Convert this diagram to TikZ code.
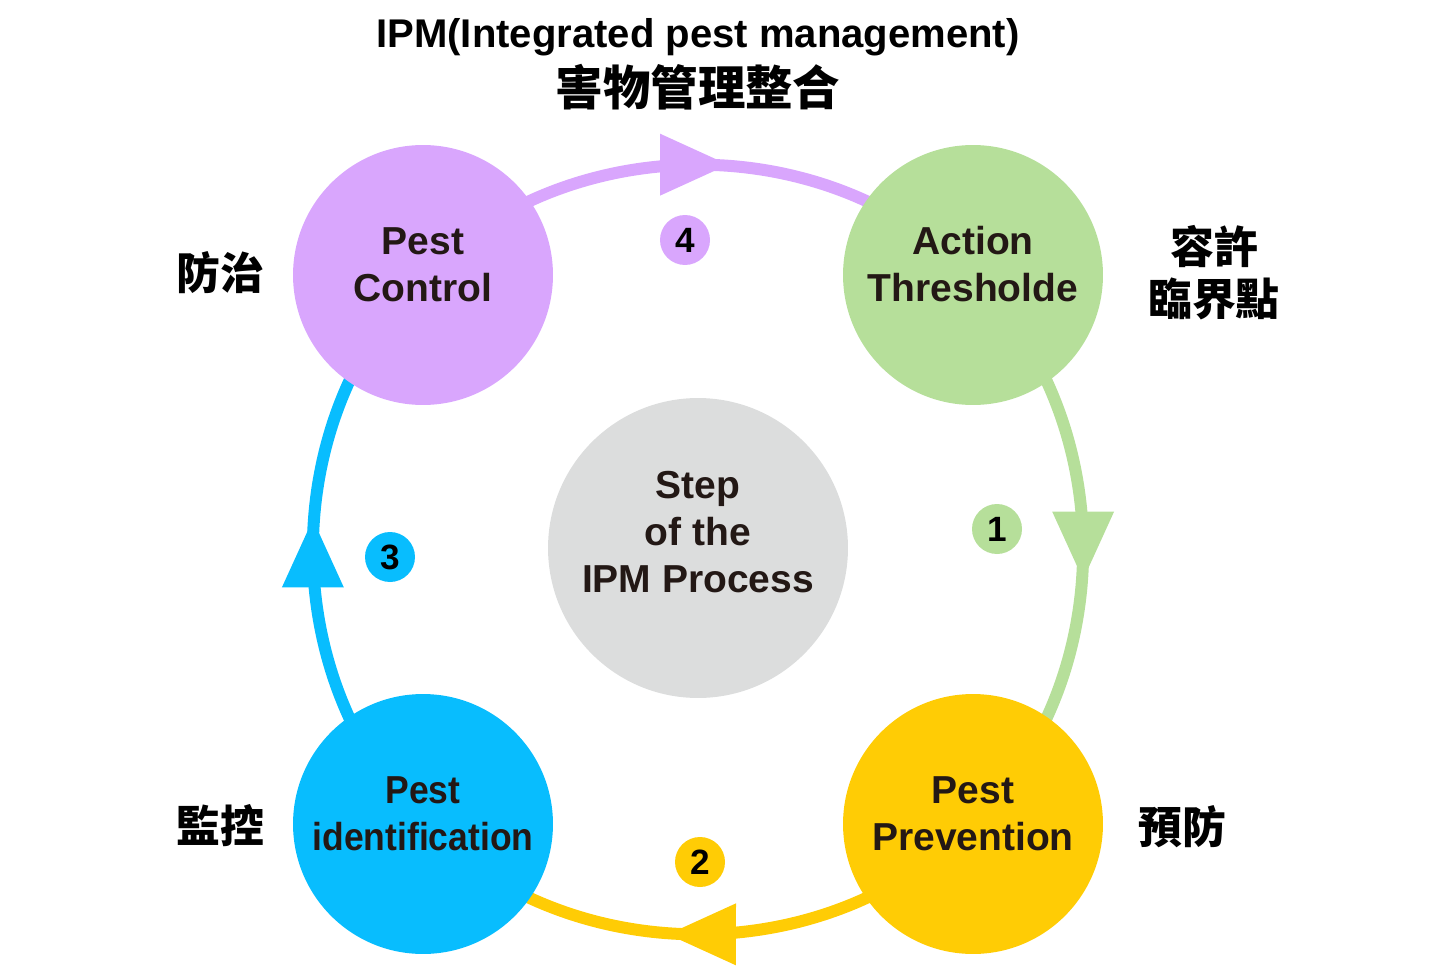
\documentclass[tikz,border=0pt]{standalone}
\usepackage{fontspec}
\setmainfont{Liberation Sans}
\newfontfamily\narrowsans[FakeStretch=0.91]{Liberation Sans}
\newfontfamily\cjk{Noto Sans CJK TC}
\usepackage{tikz}
\usetikzlibrary{backgrounds,decorations.markings}

\definecolor{ctrlpurple}{HTML}{D9A6FD}
\definecolor{threshgreen}{HTML}{B6DF9A}
\definecolor{prevyellow}{HTML}{FFCC05}
\definecolor{identblue}{HTML}{08BDFE}
\definecolor{stepgrey}{HTML}{DCDDDD}
\definecolor{ink}{HTML}{231815}

\tikzset{
    stepnode/.style={circle, fill=#1, minimum size=5.2cm, inner sep=0pt},
    steptext/.style={align=center, text=ink, font=\bfseries\fontsize{22.2}{26.7}\selectfont, yshift=6pt},
    badge/.style={circle, fill=#1, minimum size=1cm, inner sep=0pt, font=\bfseries\fontsize{20}{24}\selectfont},
    zhlabel/.style={align=center, font=\cjk\bfseries\fontsize{25}{29.6}\selectfont},
    cyclearrow/.style={line width=0.24cm, draw=#1, postaction={decorate},
        decoration={markings, mark=at position 0.5 with {\fill[#1] (-38,-31) -- (30,0) -- (-38,31) -- cycle;}}}
}

\begin{document}
\begin{tikzpicture}[x=0.02cm, y=-0.02cm]
        \useasboundingbox (0,0) rectangle (1440,977);

        % title
        \node[font=\bfseries\fontsize{22.8}{27}\selectfont, anchor=base] (title) at (698,48) {IPM(Integrated pest management)};
        \node[font=\cjk\bfseries\fontsize{27}{32}\selectfont] (titlezh) at (698,87) {害物管理整合};

        % the four steps
        \node[stepnode=ctrlpurple] (pc) at (423,275) {};
        \node[stepnode=threshgreen] (at) at (973,275) {};
        \node[stepnode=prevyellow] (pp) at (973,824) {};
        \node[stepnode=identblue] (pi) at (423,824) {};
        \node[steptext] at (pc) {Pest\\Control};
        \node[steptext] at (at) {Action\\Thresholde};
        \node[steptext] at (pp) {Pest\\Prevention};
        \node[steptext, font=\narrowsans\bfseries\fontsize{22.2}{26.7}\selectfont] at (pi) {Pest\\identification};

        \node[stepnode=stepgrey, minimum size=6cm] (step) at (698,548) {};
        \node[steptext, yshift=3pt] at (step) {Step\\of the\\IPM Process};

        % cycle
        \begin{scope}[on background layer, looseness=0.97]
            \draw[cyclearrow=ctrlpurple] (pc.center) to[bend left=45] (at.center);
            \draw[cyclearrow=threshgreen] (at.center) to[bend left=45] (pp.center);
            \draw[cyclearrow=prevyellow] (pp.center) to[bend left=45] (pi.center);
            \draw[cyclearrow=identblue] (pi.center) to[bend left=45] (pc.center);
        \end{scope}

        \node[badge=ctrlpurple] (b4) at (685,240) {4};
        \node[badge=threshgreen] (b1) at (997,529) {1};
        \node[badge=prevyellow] (b2) at (700,862) {2};
        \node[badge=identblue] (b3) at (390,557) {3};

        % chinese labels
        \node[zhlabel] (zhctrl) at (220,273) {防治};
        \node[zhlabel] (zhthresh) at (1214,273) {容許\\臨界點};
        \node[zhlabel] (zhprev) at (1182,827) {預防};
        \node[zhlabel] (zhident) at (220,826) {監控};
    \end{tikzpicture}
\end{document}
